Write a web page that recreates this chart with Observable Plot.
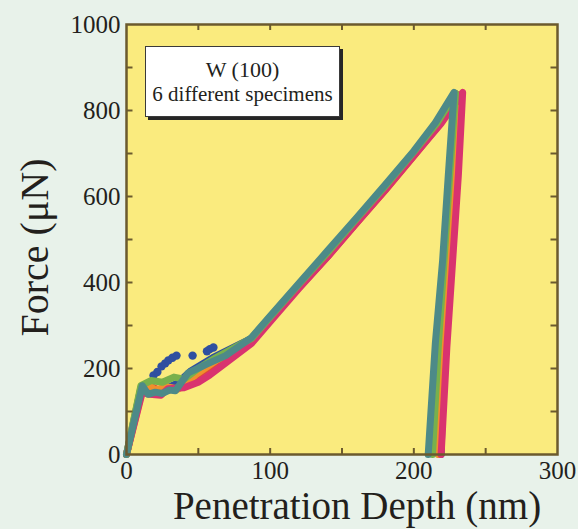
<!DOCTYPE html>
<html><head><meta charset="utf-8">
<script src="https://cdn.jsdelivr.net/npm/d3@7"></script>
<script src="https://cdn.jsdelivr.net/npm/@observablehq/plot@0.6"></script>
<style>
html,body{margin:0;padding:0;background:#e8f2ea;}
#wrap{position:relative;width:578px;height:529px;overflow:hidden;}
#note{position:absolute;left:145px;top:46px;width:195px;height:71px;background:#fff;border:1px solid #3a3a3a;box-shadow:3px 3px 0 #262626;font-family:"Liberation Serif",serif;color:#231f1c;text-align:center;font-size:21px;line-height:25px;padding-top:10px;box-sizing:border-box;}
</style></head><body><div id="wrap"><div id="note"><div style="font-size:22px">W (100)</div><div>6 different specimens</div></div></div>
<script>
// ---- data ----
const specimens = ["Specimen 1", "Specimen 2", "Specimen 3", "Specimen 4", "Specimen 5", "Specimen 6"];
const specimenColors = ["#2f4fa0", "#e0483a", "#f0902c", "#d9336f", "#78b04c", "#4d8a88"];

const depth1 = [0, 10, 16, 25, 35, 45, 60, 87, 100, 120, 140, 160, 180, 200, 216, 230, 227, 224, 221, 219];
const force1 = [0, 155, 150, 150, 165, 195, 225, 270, 318, 394, 468, 545, 622, 702, 768, 838, 650, 450, 250, 0];
const depth2 = [0, 11, 16, 22, 30, 40, 50, 65, 87, 100, 120, 140, 160, 180, 200, 218, 231, 228, 225, 222, 218];
const force2 = [0, 150, 160, 150, 150, 160, 185, 218, 262, 313, 388, 460, 538, 614, 694, 768, 835, 650, 450, 250, 0];
const depth3 = [0, 10, 14, 20, 28, 36, 48, 63, 87, 100, 120, 140, 160, 180, 200, 217, 230, 227, 224, 221, 217];
const force3 = [0, 152, 165, 150, 158, 152, 185, 220, 265, 315, 390, 464, 540, 617, 697, 767, 838, 650, 450, 250, 0];
const depth4 = [0, 11, 16, 24, 29, 40, 50, 58, 70, 87, 100, 120, 140, 160, 180, 200, 219, 234, 231, 227, 223, 219];
const force4 = [0, 145, 140, 138, 153, 155, 168, 185, 215, 258, 309, 386, 460, 538, 615, 695, 770, 842, 650, 450, 250, 0];
const depth5 = [0, 10, 17, 25, 33, 40, 50, 62, 87, 100, 120, 140, 160, 180, 200, 216, 229, 225, 221, 217, 213];
const force5 = [0, 160, 172, 168, 180, 175, 200, 225, 270, 320, 396, 470, 548, 624, 704, 770, 840, 650, 450, 250, 0];
const depth6 = [0, 11, 15, 20, 25, 30, 34, 43, 57, 69, 87, 100, 120, 140, 160, 180, 200, 215, 228, 224, 220, 215, 210];
const force6 = [0, 160, 140, 145, 142, 150, 148, 190, 212, 230, 272, 322, 398, 474, 550, 627, 706, 772, 842, 650, 450, 260, 0];

// scattered early points of specimen 1
const blueDotDepth = [18.8, 21.5, 24.4, 27, 29.2, 32, 34.8, 46, 56, 58, 60.5];
const blueDotForce = [184, 192, 205, 212, 219, 225, 230, 230, 240, 245, 249];

const xLabelTicks = [0, 100, 200, 300];
const xMinorTicks = [50, 100, 150, 200, 250];
const yLabelTicks = [0, 200, 400, 600, 800, 1000];
const yMinorTicks = [100, 200, 300, 400, 500, 600, 700, 800, 900];

// ---- build tables ----
const depths = [depth1, depth2, depth3, depth4, depth5, depth6];
const forces = [force1, force2, force3, force4, force5, force6];
const series = specimens.map((s, i) => depths[i].map((d, j) => ({specimen: s, depth: d, force: forces[i][j]})));
const blueDots = blueDotDepth.map((d, i) => ({depth: d, force: blueDotForce[i]}));

const W = 578, H = 529, mL = 126, mR = 21, mT = 24, mB = 75;
const xDom = [0, 300], yDom = [0, 1000];
const pxX = (W - mL - mR) / (xDom[1] - xDom[0]);
const pxY = (H - mT - mB) / (yDom[1] - yDom[0]);
const tickLenX = 6 / pxY;   // in force units (vertical ticks on x axes)
const tickLenY = 6.5 / pxX; // in depth units (horizontal ticks on y axes)
const axisColor = "#6b5a2e";
const ink = "#231f1c";

const lineMarks = series.map((rows, i) => Plot.line(rows, {
  x: "depth", y: "force", stroke: specimenColors[i], strokeWidth: 7,
  strokeLinejoin: "round", strokeLinecap: "round"
}));

const chart = Plot.plot({
  width: W, height: H,
  marginLeft: mL, marginRight: mR, marginTop: mT, marginBottom: mB,
  style: {background: "#e8f2ea", fontFamily: "'Liberation Serif', serif", fontSize: "25px", color: ink},
  x: {domain: xDom},
  y: {domain: yDom},
  marks: [
    Plot.frame({fill: "#faeb7e"}),
    Plot.dot(blueDots, {x: "depth", y: "force", r: 4.2, fill: specimenColors[0]}),
    ...lineMarks,
    Plot.ruleX(xMinorTicks, {x: d => d, y1: yDom[0], y2: yDom[0] + tickLenX, stroke: axisColor, strokeWidth: 2}),
    Plot.ruleX(xMinorTicks, {x: d => d, y1: yDom[1] - tickLenX, y2: yDom[1], stroke: axisColor, strokeWidth: 2}),
    Plot.ruleY(yMinorTicks, {y: d => d, x1: xDom[0], x2: xDom[0] + tickLenY, stroke: axisColor, strokeWidth: 2}),
    Plot.ruleY(yMinorTicks, {y: d => d, x1: xDom[1] - tickLenY, x2: xDom[1], stroke: axisColor, strokeWidth: 2}),
    Plot.frame({stroke: axisColor, strokeWidth: 2.5}),
    Plot.axisX({ticks: xLabelTicks, tickFormat: d => String(d), tickSize: 0, tickPadding: 7, label: null, fontSize: 25, fill: ink}),
    Plot.axisY({ticks: yLabelTicks, tickFormat: d => String(d), tickSize: 0, tickPadding: 6, label: null, fontSize: 25, fill: ink}),
    Plot.text(["Penetration Depth (nm)"], {frameAnchor: "bottom", textAnchor: "middle", dx: 15, dy: 52, lineAnchor: "middle", fontSize: 39, fill: ink}),
    Plot.text(["Force (μN)"], {frameAnchor: "left", textAnchor: "middle", lineAnchor: "middle", rotate: -90, dx: -91, dy: 8, fontSize: 40, fill: ink})
  ]
});
document.getElementById("wrap").prepend(chart);
</script>
</body></html>
